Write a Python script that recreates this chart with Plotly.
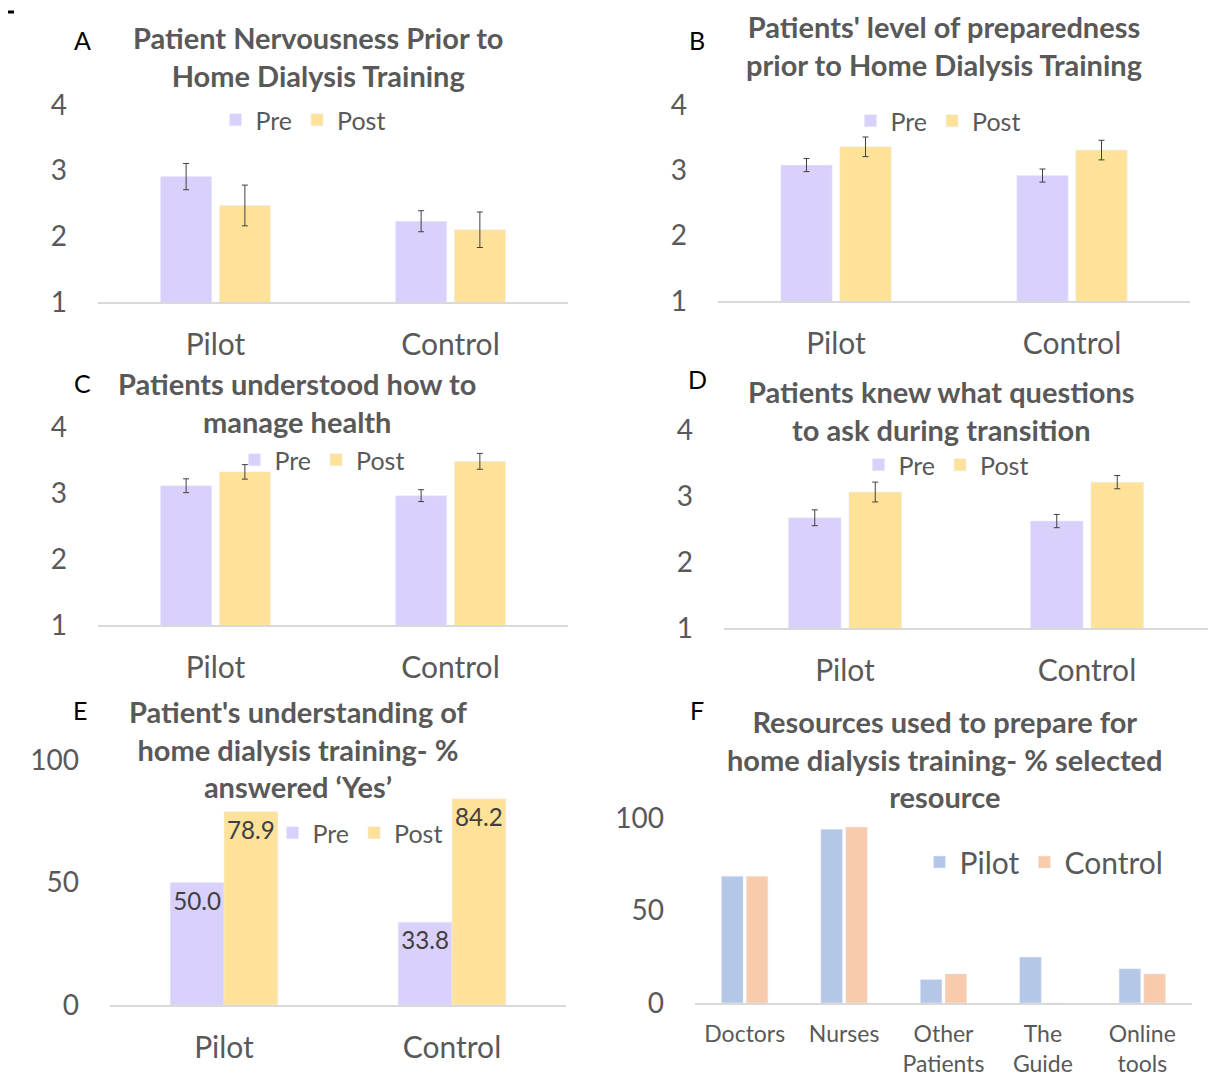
import plotly.graph_objects as go

W, H = 1218, 1079
PAGE_OFFSET = 8  # default page margin of the html body

groups = ["Pilot", "Control"]

A_pre = [2.91, 2.23]
A_post = [2.47, 2.10]
A_pre_err = [0.20, 0.16]
A_post_err = [0.31, 0.27]

B_pre = [3.08, 2.92]
B_post = [3.36, 3.31]
B_pre_err = [0.10, 0.10]
B_post_err = [0.15, 0.15]

C_pre = [3.11, 2.96]
C_post = [3.32, 3.48]
C_pre_err = [0.105, 0.09]
C_post_err = [0.11, 0.12]

D_pre = [2.67, 2.62]
D_post = [3.06, 3.21]
D_pre_err = [0.12, 0.10]
D_post_err = [0.15, 0.10]

E_pre = [50.0, 33.8]
E_post = [78.9, 84.2]

F_categories = ["Doctors", "Nurses", "Other<br>Patients", "The<br>Guide", "Online<br>tools"]
F_pilot = [68.5, 93.9, 12.7, 24.8, 18.5]
F_control = [68.5, 95.1, 15.7, 0, 15.7]

titles = [
    "Patient Nervousness Prior to<br>Home Dialysis Training",
    "Patients' level of preparedness<br>prior to Home Dialysis Training",
    "Patients understood how to<br>manage health",
    "Patients knew what questions<br>to ask during transition",
    "Patient's understanding of<br>home dialysis training- %<br>answered \u2018Yes\u2019",
    "Resources used to prepare for<br>home dialysis training- % selected<br>resource",
]
letters = ["A", "B", "C", "D", "E", "F"]

PRE = "#D9D0FC"
POST = "#FFE299"
PILOT = "#B4C7E7"
CONTROL = "#F8CBAD"
GRAY = "#595959"
FONT = "Lato"

def fx(px):
    return (px - PAGE_OFFSET) / W

def fy(py):
    return 1 - (py - PAGE_OFFSET) / H

# panel geometry in pixels: x0, x1, ytop, ybase
panels = [
    (98, 568, 105, 302),
    (718, 1190, 105, 301),
    (98, 568, 427, 625),
    (724, 1208, 430, 628),
    (110, 566, 760, 1005),
    (695, 1192, 818, 1003),
]

fig = go.Figure()

err_style = dict(type="data", color="#404040", thickness=1, width=3)

scored = [
    (A_pre, A_post, A_pre_err, A_post_err),
    (B_pre, B_post, B_pre_err, B_post_err),
    (C_pre, C_post, C_pre_err, C_post_err),
    (D_pre, D_post, D_pre_err, D_post_err),
]

legend_pos = [(303, 120, 25), (938, 121, 25), (322, 460, 25), (946, 465, 25), (360, 833, 25), (1044, 862, 30)]

for i, (pre, post, epre, epost) in enumerate(scored):
    ax = "" if i == 0 else str(i + 1)
    lg = "legend" if i == 0 else f"legend{i+1}"
    fig.add_trace(go.Bar(x=groups, y=pre, name="Pre", marker_color=PRE,
                         error_y=dict(array=epre, **err_style),
                         xaxis="x" + ax, yaxis="y" + ax, legend=lg))
    fig.add_trace(go.Bar(x=groups, y=post, name="Post", marker_color=POST,
                         error_y=dict(array=epost, **err_style),
                         xaxis="x" + ax, yaxis="y" + ax, legend=lg))

lbl_font = dict(color="#404040", size=28, family=FONT)
fig.add_trace(go.Bar(x=groups, y=E_pre, name="Pre", marker_color=PRE,
                     width=0.236, offset=-0.236,
                     text=[f"{v:.1f}" for v in E_pre], textposition="inside", textangle=0,
                     insidetextanchor="end", textfont=lbl_font,
                     xaxis="x5", yaxis="y5", legend="legend5"))
fig.add_trace(go.Bar(x=groups, y=E_post, name="Post", marker_color=POST,
                     width=0.236, offset=0,
                     text=[f"{v:.1f}" for v in E_post], textposition="inside", textangle=0,
                     insidetextanchor="end", textfont=lbl_font,
                     xaxis="x5", yaxis="y5", legend="legend5"))

fig.add_trace(go.Bar(x=F_categories, y=F_pilot, name="Pilot", marker_color=PILOT,
                     xaxis="x6", yaxis="y6", legend="legend6"))
fig.add_trace(go.Bar(x=F_categories, y=F_control, name="Control", marker_color=CONTROL,
                     xaxis="x6", yaxis="y6", legend="legend6"))

layout = dict(
    width=W, height=H,
    margin=dict(l=0, r=0, t=0, b=0, autoexpand=False),
    paper_bgcolor="white", plot_bgcolor="white",
    barmode="group",
    bargap=0.5, bargroupgap=0.13,
    font=dict(family=FONT, color=GRAY),
    uniformtext=dict(minsize=28, mode="show"),
    showlegend=True,
)

for i, (x0, x1, yt, yb) in enumerate(panels):
    ax = "" if i == 0 else str(i + 1)
    scored_panel = i < 4
    xa = dict(domain=[fx(x0), fx(x1)], anchor="y" + ax, showline=True, linecolor="#D9D9D9",
              linewidth=1.5, showgrid=False, ticks="", zeroline=False, automargin=False,
              tickfont=dict(size=30 if i != 5 else 23, color=GRAY, family=FONT),
              ticklabelstandoff=15 if i != 5 else 10, fixedrange=True)
    if scored_panel:
        ya = dict(domain=[fy(yb), fy(yt)], anchor="x" + ax, range=[1, 4], tickvals=[1, 2, 3, 4])
    else:
        ya = dict(domain=[fy(yb), fy(yt)], anchor="x" + ax, range=[0, 100], tickvals=[0, 50, 100])
    ya.update(showgrid=False, zeroline=False, showline=False, ticks="", automargin=False,
              tickfont=dict(size=28, color=GRAY, family=FONT), ticklabelstandoff=30)
    layout["xaxis" + ax] = xa
    layout["yaxis" + ax] = ya

for i, (lx, ly, ls) in enumerate(legend_pos):
    key = "legend" if i == 0 else f"legend{i+1}"
    layout[key] = dict(x=fx(lx), y=fy(ly), xanchor="center", yanchor="middle",
                       orientation="h", bgcolor="rgba(0,0,0,0)",
                       font=dict(size=ls, color=GRAY, family=FONT),
                       itemwidth=30, tracegroupgap=0, traceorder="normal")

fig.update_layout(**layout)

# titles
title_pos = [(318, 57), (944, 45), (297, 402), (942, 410), (298, 749), (945, 759)]
for (tx, ty), t in zip(title_pos, titles):
    fig.add_annotation(text=t, x=fx(tx), y=fy(ty), xref="paper", yref="paper",
                       xanchor="center", yanchor="middle", showarrow=False,
                       font=dict(size=29, color=GRAY, family=FONT, weight="bold"))

letter_pos = [(82, 40), (697, 40), (82, 383), (697, 379), (80, 710), (697, 710)]
for (lx, ly), l in zip(letter_pos, letters):
    fig.add_annotation(text=l, x=fx(lx), y=fy(ly), xref="paper", yref="paper",
                       xanchor="center", yanchor="middle", showarrow=False,
                       font=dict(size=25, color="black", family=FONT))

fig.add_shape(type="line", xref="paper", yref="paper", x0=fx(8), x1=fx(14), y0=fy(12), y1=fy(12),
              line=dict(color="black", width=3))

fig.write_html("out.html")
